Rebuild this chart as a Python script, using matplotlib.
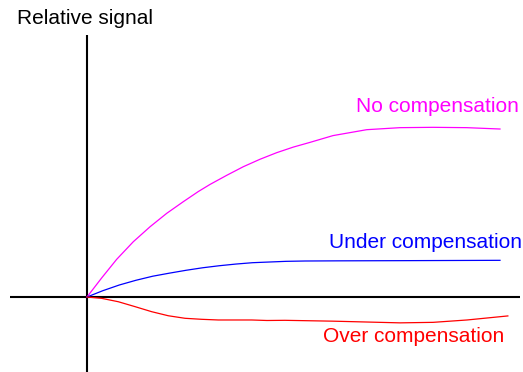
import matplotlib
matplotlib.use("Agg")
import matplotlib.pyplot as plt

plt.rcParams["font.family"] = ["Liberation Sans", "DejaVu Sans"]

# time (arbitrary units) and relative signal values
time_no = [0.0, 0.356, 0.719, 1.121, 1.528, 1.930, 2.332, 2.695, 2.978, 3.383, 3.785,
           4.189, 4.593, 4.995, 5.400, 5.956, 6.772, 7.579, 8.378, 9.194, 10.0]
no_comp = [0.0, 0.113, 0.223, 0.327, 0.416, 0.495, 0.564, 0.624, 0.666, 0.720, 0.771,
           0.815, 0.854, 0.887, 0.915, 0.955, 0.990, 1.002, 1.004, 1.002, 0.994]

time_under = [0.0, 0.380, 0.782, 1.186, 1.591, 1.993, 2.397, 2.801, 3.203, 3.608,
              4.010, 4.818, 5.278, 6.126, 7.579, 10.0]
under_comp = [0.0, 0.037, 0.071, 0.099, 0.123, 0.141, 0.158, 0.173, 0.185, 0.195,
              0.203, 0.211, 0.213, 0.214, 0.215, 0.217]

time_over = [0.0, 0.356, 0.758, 1.162, 1.567, 1.969, 2.373, 2.777, 3.179, 3.988,
             4.358, 4.794, 5.956, 7.579, 8.378, 9.201, 10.19]
over_comp = [0.0, -0.008, -0.028, -0.057, -0.087, -0.111, -0.126, -0.132, -0.136, -0.136,
             -0.139, -0.138, -0.143, -0.153, -0.150, -0.136, -0.112]

# pixel scale of the drawing
sx = 41.3
sy = 169.0

fig = plt.figure(figsize=(5.23, 3.72), dpi=100)
ax = fig.add_axes([0, 0, 1, 1])
ax.set_xlim(-87 / sx, (523 - 87) / sx)
ax.set_ylim((297 - 372) / sy, 297 / sy)
ax.axis("off")

# axes drawn by hand
ax.plot([-77 / sx, 433 / sx], [0, 0], color="black", lw=1.5, solid_capstyle="butt")
ax.plot([0, 0], [(297 - 372) / sy, 262 / sy], color="black", lw=1.5, solid_capstyle="butt")

ax.plot(time_no, no_comp, color="#ff00ff", lw=0.9)
ax.plot(time_under, under_comp, color="#0000ff", lw=0.9)
ax.plot(time_over, over_comp, color="#ff0000", lw=0.9)

ax.text(-70 / sx, (297 - 18) / sy, "Relative signal", fontsize=15, color="black",
        ha="left", va="center")
ax.text(432 / sx, (297 - 107) / sy, "No compensation", fontsize=15, color="#ff00ff",
        ha="right", va="center")
ax.text(435 / sx, (297 - 243) / sy, "Under compensation", fontsize=15, color="#0000ff",
        ha="right", va="center")
ax.text(417 / sx, (297 - 337) / sy, "Over compensation", fontsize=15, color="#ff0000",
        ha="right", va="center")

fig.savefig("out.png", dpi=100)
